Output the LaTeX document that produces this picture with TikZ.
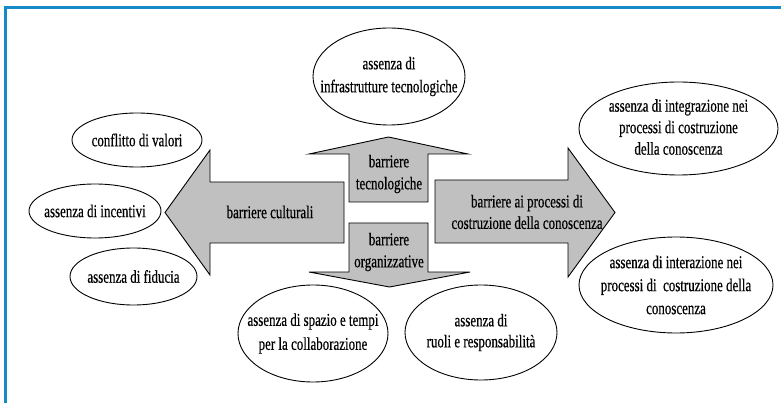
\documentclass[tikz,border=0pt]{standalone}
\usepackage{fontspec}
\setmainfont{Liberation Serif}[FakeStretch=0.72,FakeBold=0.5]
\usetikzlibrary{shapes.geometric}
\definecolor{frameblue}{RGB}{22,138,198}
\definecolor{arrowgrey}{RGB}{192,192,192}
\tikzset{
  bubble/.style={ellipse, draw=black, line width=0.9pt, fill=white, inner sep=0pt},
  bigarrow/.style={draw=black, line width=0.9pt, fill=arrowgrey},
  label/.style={align=center, inner sep=0pt, font=\fontsize{18}{22}\selectfont}
}
\begin{document}
\begin{tikzpicture}[x=1pt,y=-1pt]
\useasboundingbox (0,0) rectangle (781,403);
\fill[white] (0,0) rectangle (781,403);
% frame
\draw[frameblue, line width=3pt] (5,403) -- (5,8) -- (781,8);

% arrows
\draw[bigarrow] (344,182) -- (210,182) -- (210,150) -- (165,212.5) -- (210,275) -- (210,243) -- (344,243) -- cycle;
\draw[bigarrow] (349,202) -- (349,154) -- (309,154) -- (388.5,137) -- (468,154) -- (428,154) -- (428,202) -- cycle;
\draw[bigarrow] (349,223) -- (428,223) -- (428,272) -- (470,272) -- (389.5,287) -- (309,272) -- (349,272) -- cycle;
\draw[bigarrow] (435,180) -- (568,180) -- (568,148) -- (615,212.5) -- (568,277) -- (568,243) -- (435,243) -- cycle;

\node[label] (cult) at (270,212) {barriere culturali};
\node[label] (tecn) at (389,174) {barriere\\tecnologiche};
\node[label] (org) at (389,252) {barriere\\organizzative};
\node[label, font=\fontsize{18}{21.5}\selectfont] (proc) at (527,212) {barriere ai processi di\\costruzione della conoscenza};

% ellipses
\node[bubble, minimum width=152pt, minimum height=97pt] (infra) at (389,76.5) {};
\node[bubble, minimum width=130pt, minimum height=54pt] (conf) at (137,140) {};
\node[bubble, minimum width=132pt, minimum height=54pt] (inc) at (95,211) {};
\node[bubble, minimum width=127pt, minimum height=57pt] (fid) at (133.5,276.5) {};
\node[bubble, minimum width=150pt, minimum height=97pt] (spazio) at (313,333.5) {};
\node[bubble, minimum width=152pt, minimum height=95pt] (ruoli) at (481,332.5) {};
\node[bubble, minimum width=199pt, minimum height=93pt] (integ) at (678.5,128.5) {};
\node[bubble, minimum width=194pt, minimum height=96pt] (inter) at (676,285) {};

\node[label, font=\fontsize{18}{23}\selectfont] (tinfra) at (infra) {assenza di\\infrastrutture tecnologiche};
\node[label] (tconf) at (conf) {conflitto di valori};
\node[label] (tinc) at (inc) {assenza di incentivi};
\node[label] (tfid) at (fid) {assenza di fiducia};
\node[label, font=\fontsize{18}{24}\selectfont] (tspazio) at (spazio) {assenza di spazio e tempi\\per la collaborazione};
\node[label, font=\fontsize{18}{21}\selectfont] (truoli) at (ruoli) {assenza di\\ruoli e responsabilità};
\node[label, font=\fontsize{18}{21.5}\selectfont] (tinteg) at ([yshift=1.5pt]integ) {assenza di integrazione nei\\processi di costruzione\\della conoscenza};
\node[label, font=\fontsize{18}{23}\selectfont] (tinter) at (inter) {assenza di interazione nei\\processi di\ \ costruzione della\\conoscenza};
\end{tikzpicture}
\end{document}
